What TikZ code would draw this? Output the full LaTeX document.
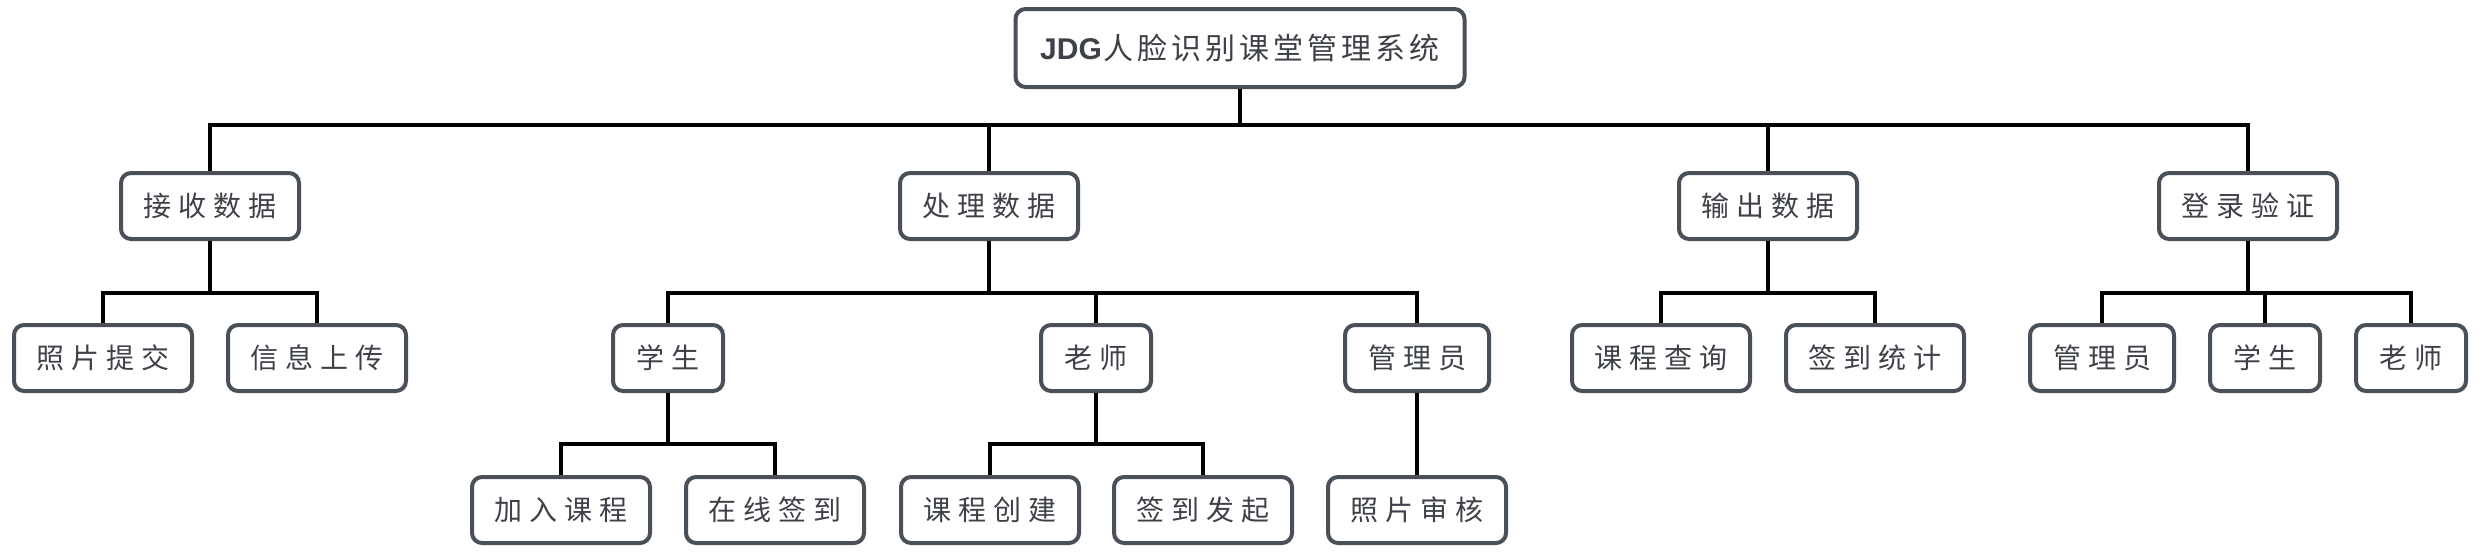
\documentclass[tikz,border=0pt]{standalone}
\usepackage{fontspec}
\newfontfamily\cjk{Noto Sans CJK SC}
\newfontfamily\latinb{Liberation Sans}
\usetikzlibrary{calc}
\definecolor{boxc}{RGB}{74,80,88}
\definecolor{txtc}{RGB}{62,66,72}
\newdimen\gapd \gapd=7pt
\def\spcEnd{}
\def\sptxt#1{\spcA#1\spcEnd}
\def\spcA#1{\ifx#1\spcEnd\else#1\expandafter\spcB\fi}
\def\spcB#1{\ifx#1\spcEnd\else\kern\gapd#1\expandafter\spcB\fi}
\newcommand\lblfont{\cjk\fontsize{28pt}{31pt}\selectfont}
\tikzset{
  box/.style={draw=boxc, line width=4pt, rounded corners=10pt, minimum height=66pt,
    inner sep=0pt, text=txtc, font=\lblfont, fill=white},
  w4/.style={box, minimum width=178pt},
  w3/.style={box, minimum width=144pt},
  w2/.style={box, minimum width=110pt},
  conn/.style={line width=4pt, draw=black},
}
\begin{document}
\begin{tikzpicture}[x=1pt,y=-1pt]
\fill[white] (0,0) rectangle (2480,558);
\useasboundingbox (0,0) rectangle (2480,558);
\coordinate (y1) at (0,125);
\coordinate (y2) at (0,293);
\coordinate (y3) at (0,444);
% root
\node[box, minimum width=449pt, minimum height=78pt,
  font=\cjk\fontsize{30pt}{33pt}\selectfont] (root) at (1240,48)
  {{\latinb\bfseries JDG}\kern2pt{\gapd=4pt\sptxt{人脸识别课堂管理系统}}};
% level 1
\node[w4] (A) at (210,206) {\sptxt{接收数据}};
\node[w4] (B) at (989,206) {\sptxt{处理数据}};
\node[w4] (C) at (1768,206) {\sptxt{输出数据}};
\node[w4] (D) at (2248,206) {\sptxt{登录验证}};
% level 2
\node[w4] (a1) at (103,358) {\sptxt{照片提交}};
\node[w4] (a2) at (317,358) {\sptxt{信息上传}};
\node[w2] (b1) at (668,358) {\sptxt{学生}};
\node[w2] (b2) at (1096,358) {\sptxt{老师}};
\node[w3] (b3) at (1417,358) {\sptxt{管理员}};
\node[w4] (c1) at (1661,358) {\sptxt{课程查询}};
\node[w4] (c2) at (1875,358) {\sptxt{签到统计}};
\node[w3] (d1) at (2102,358) {\sptxt{管理员}};
\node[w2] (d2) at (2265,358) {\sptxt{学生}};
\node[w2] (d3) at (2411,358) {\sptxt{老师}};
% level 3
\node[w4] (b11) at (561,510) {\sptxt{加入课程}};
\node[w4] (b12) at (775,510) {\sptxt{在线签到}};
\node[w4] (b21) at (990,510) {\sptxt{课程创建}};
\node[w4] (b22) at (1203,510) {\sptxt{签到发起}};
\node[w4] (b31) at (1417,510) {\sptxt{照片审核}};
% connectors
\foreach \c in {A,B,C,D} \draw[conn] (root.south) -- (root.south |- y1) -| (\c.north);
\foreach \c in {a1,a2} \draw[conn] (A.south) -- (A.south |- y2) -| (\c.north);
\foreach \c in {b1,b2,b3} \draw[conn] (B.south) -- (B.south |- y2) -| (\c.north);
\foreach \c in {c1,c2} \draw[conn] (C.south) -- (C.south |- y2) -| (\c.north);
\foreach \c in {d1,d2,d3} \draw[conn] (D.south) -- (D.south |- y2) -| (\c.north);
\foreach \c in {b11,b12} \draw[conn] (b1.south) -- (b1.south |- y3) -| (\c.north);
\foreach \c in {b21,b22} \draw[conn] (b2.south) -- (b2.south |- y3) -| (\c.north);
\draw[conn] (b3.south) -- (b31.north);
\end{tikzpicture}
\end{document}
